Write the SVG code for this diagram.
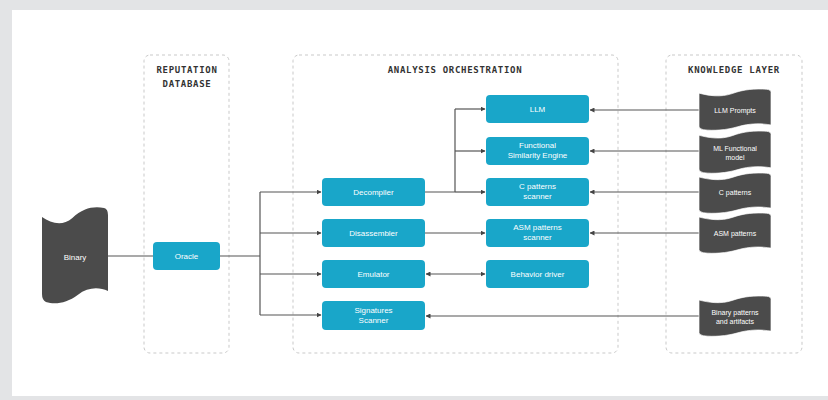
<svg xmlns="http://www.w3.org/2000/svg" xmlns:xlink="http://www.w3.org/1999/xlink" width="828" height="400" viewBox="0 0 828 400">
<style>
.frame{fill:none;stroke:#c9c9c9;stroke-width:1;stroke-dasharray:3 3}
.hdr{font-family:"DejaVu Sans Mono",monospace;font-weight:bold;font-size:9px;letter-spacing:0.7px;fill:#333;text-anchor:middle}
.node{fill:#19a6c9}
.nt{font-family:"Liberation Sans",Arial,sans-serif;font-size:8px;fill:#fff;text-anchor:middle}
.doc{fill:#4b4b4b;stroke:#fff;stroke-width:1.2}
.dt{font-family:"Liberation Sans",Arial,sans-serif;font-size:7px;fill:#fff;text-anchor:middle}
.c{fill:none;stroke:#555;stroke-width:1.2}
</style>
<defs>
<path id="tape" d="M0,12 C14,18 30,22 46,13 C62,3 78,1 94,3 Q100,4 100,10 L100,86 C86,82 70,82 54,90 C38,98 20,100 6,97 Q0,95 0,89 Z"/>
<marker id="ah" viewBox="0 0 10 10" refX="9" refY="5" markerWidth="5" markerHeight="5" orient="auto-start-reverse" markerUnits="userSpaceOnUse">
<path d="M0,0 L10,5 L0,10 Z" fill="#444"/>
</marker>
</defs>
<rect x="0" y="0" width="828" height="400" fill="#e3e4e6"/>
<rect x="12" y="10" width="816" height="386" fill="#fff"/>

<g id="frames">
<rect class="frame" x="144" y="55" width="85" height="298" rx="6"/>
<rect class="frame" x="293" y="55" width="325" height="298" rx="6"/>
<rect class="frame" x="666" y="55" width="136" height="298" rx="6"/>
<text class="hdr" x="187" y="73">REPUTATION</text>
<text class="hdr" x="187" y="87">DATABASE</text>
<text class="hdr" x="455" y="73">ANALYSIS ORCHESTRATION</text>
<text class="hdr" x="734" y="73">KNOWLEDGE LAYER</text>
</g>

<g id="connectors">
<path class="c" d="M108,256 H153"/>
<path class="c" d="M220,256 H260 M260,192 V315"/>
<path class="c" d="M260,192 H321" marker-end="url(#ah)"/>
<path class="c" d="M260,233 H321" marker-end="url(#ah)"/>
<path class="c" d="M260,274 H321" marker-end="url(#ah)"/>
<path class="c" d="M260,315 H321" marker-end="url(#ah)"/>
<path class="c" d="M425,192 H455 M455,109 V192"/>
<path class="c" d="M455,109 H485" marker-end="url(#ah)"/>
<path class="c" d="M455,151 H485" marker-end="url(#ah)"/>
<path class="c" d="M455,192 H485" marker-end="url(#ah)"/>
<path class="c" d="M425,233 H485" marker-end="url(#ah)"/>
<path class="c" d="M426,274 H485" marker-start="url(#ah)" marker-end="url(#ah)"/>
<path class="c" d="M700,110 H590" marker-end="url(#ah)"/>
<path class="c" d="M700,151 H590" marker-end="url(#ah)"/>
<path class="c" d="M700,192 H590" marker-end="url(#ah)"/>
<path class="c" d="M700,233 H590" marker-end="url(#ah)"/>
<path class="c" d="M700,316 H426" marker-end="url(#ah)"/>
</g>

<g id="binary">
<use xlink:href="#tape" href="#tape" transform="translate(42,205) scale(0.66,1)" fill="#4b4b4b"/>
<text class="nt" x="75" y="260">Binary</text>
</g>
<g id="oracle">
<rect class="node" x="153" y="242" width="67" height="28" rx="4"/>
<text class="nt" x="186.5" y="259">Oracle</text>
</g>

<g id="decompiler">
<rect class="node" x="322" y="178" width="103" height="28" rx="4"/>
<text class="nt" x="373.5" y="195">Decompiler</text>
</g>
<g id="disassembler">
<rect class="node" x="322" y="219" width="103" height="28" rx="4"/>
<text class="nt" x="373.5" y="236">Disassembler</text>
</g>
<g id="emulator">
<rect class="node" x="322" y="260" width="103" height="28" rx="4"/>
<text class="nt" x="373.5" y="277">Emulator</text>
</g>
<g id="signatures">
<rect class="node" x="322" y="301" width="103" height="29" rx="4"/>
<text class="nt" x="373.5" y="313">Signatures</text>
<text class="nt" x="373.5" y="323">Scanner</text>
</g>

<g id="llm">
<rect class="node" x="486" y="95" width="103" height="28" rx="4"/>
<text class="nt" x="537.5" y="112">LLM</text>
</g>
<g id="functional">
<rect class="node" x="486" y="137" width="103" height="28" rx="4"/>
<text class="nt" x="537.5" y="148">Functional</text>
<text class="nt" x="537.5" y="158">Similarity Engine</text>
</g>
<g id="cscanner">
<rect class="node" x="486" y="178" width="103" height="28" rx="4"/>
<text class="nt" x="537.5" y="189">C patterns</text>
<text class="nt" x="537.5" y="199">scanner</text>
</g>
<g id="asmscanner">
<rect class="node" x="486" y="219" width="103" height="28" rx="4"/>
<text class="nt" x="537.5" y="230">ASM patterns</text>
<text class="nt" x="537.5" y="240">scanner</text>
</g>
<g id="behavior">
<rect class="node" x="486" y="260" width="103" height="28" rx="4"/>
<text class="nt" x="537.5" y="277">Behavior driver</text>
</g>

<g id="kb-llm">
<use xlink:href="#tape" href="#tape" class="doc" transform="translate(699,88) scale(0.72,0.43)"/>
<text class="dt" x="735" y="113">LLM Prompts</text>
</g>
<g id="kb-ml">
<use xlink:href="#tape" href="#tape" class="doc" transform="translate(699,130) scale(0.72,0.44)"/>
<text class="dt" x="735" y="151">ML Functional</text>
<text class="dt" x="735" y="160">model</text>
</g>
<g id="kb-c">
<use xlink:href="#tape" href="#tape" class="doc" transform="translate(699,172) scale(0.72,0.42)"/>
<text class="dt" x="735" y="195">C patterns</text>
</g>
<g id="kb-asm">
<use xlink:href="#tape" href="#tape" class="doc" transform="translate(699,212) scale(0.72,0.42)"/>
<text class="dt" x="735" y="236">ASM patterns</text>
</g>
<g id="kb-bin">
<use xlink:href="#tape" href="#tape" class="doc" transform="translate(699,295) scale(0.72,0.42)"/>
<text class="dt" x="735" y="315">Binary patterns</text>
<text class="dt" x="735" y="324">and artifacts</text>
</g>
</svg>
